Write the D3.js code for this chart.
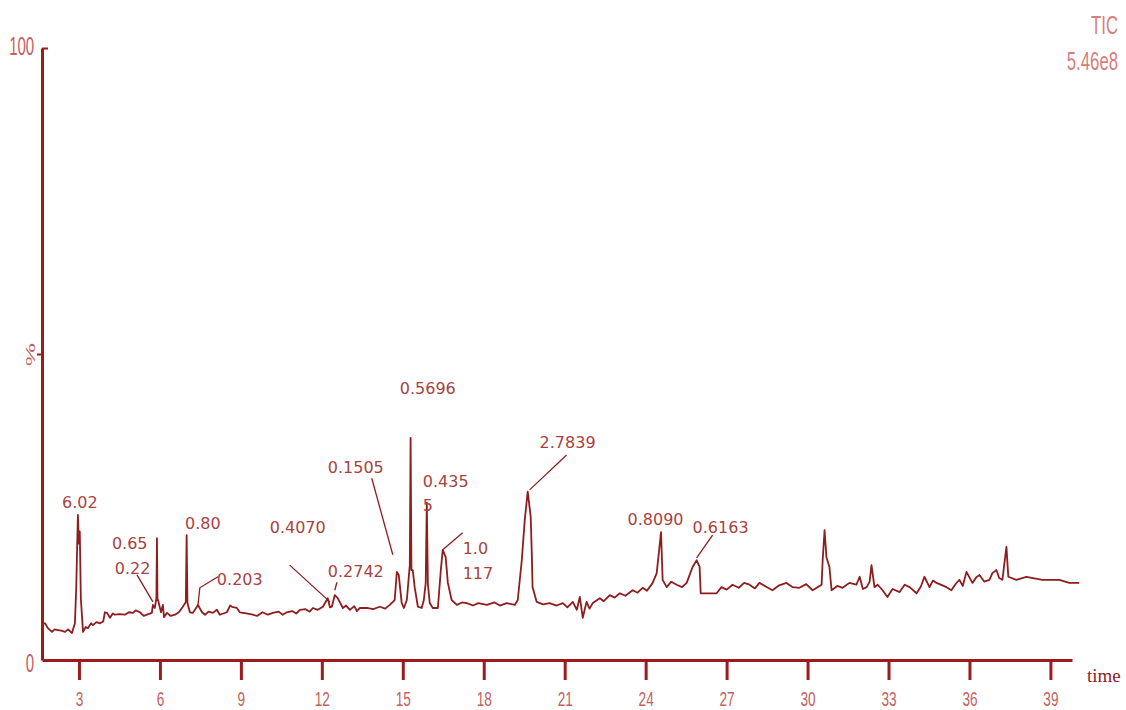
<!DOCTYPE html>
<html>
<head>
<meta charset="utf-8">
<script src="https://cdn.jsdelivr.net/npm/d3@7"></script>
<style>
  body { margin: 0; background: #fff; }
  svg { display: block; }
</style>
</head>
<body>
<div id="chart"></div>
<script>
// TIC trace as [retention time (min), relative abundance (%)]
const trace = [
  [1.63, 6.0], [1.74, 6.0], [1.85, 5.2], [2.00, 4.6], [2.10, 5.0], [2.22, 4.9], [2.35, 4.8], [2.48, 4.6],
  [2.60, 5.0], [2.74, 4.4], [2.85, 6.0], [2.90, 12.0], [2.93, 18.0], [2.96, 23.7], [3.00, 19.0], [3.03, 21.0],
  [3.07, 10.0], [3.15, 4.6], [3.25, 5.4], [3.33, 5.2], [3.45, 6.0], [3.52, 5.7], [3.65, 6.2], [3.78, 6.0],
  [3.90, 6.3], [3.96, 7.8], [4.04, 7.7], [4.15, 6.9], [4.25, 7.6], [4.33, 7.4], [4.50, 7.5], [4.70, 7.4],
  [4.85, 7.8], [5.00, 7.7], [5.10, 8.1], [5.26, 7.8], [5.40, 7.2], [5.52, 7.4], [5.70, 7.7], [5.74, 9.0],
  [5.81, 8.5], [5.87, 10.1], [5.89, 19.9], [5.91, 9.8], [5.93, 9.8], [6.04, 7.8], [6.11, 9.0], [6.15, 7.0],
  [6.26, 7.7], [6.40, 7.2], [6.56, 7.4], [6.70, 7.8], [6.85, 8.7], [6.96, 9.5], [6.99, 20.4], [7.02, 9.3],
  [7.11, 7.8], [7.22, 7.7], [7.37, 8.7], [7.41, 9.0], [7.56, 7.8], [7.67, 7.4], [7.80, 7.9], [7.96, 7.7],
  [8.11, 8.2], [8.22, 7.4], [8.35, 7.6], [8.48, 7.8], [8.60, 8.9], [8.67, 8.7], [8.85, 8.5], [8.96, 7.8],
  [9.20, 7.6], [9.44, 7.4], [9.60, 7.2], [9.80, 7.8], [10.00, 7.4], [10.19, 7.7], [10.40, 7.9], [10.55, 7.4],
  [10.70, 7.8], [10.90, 8.0], [11.05, 7.6], [11.19, 8.2], [11.40, 8.3], [11.55, 7.9], [11.67, 8.5], [11.85, 8.2],
  [12.04, 8.7], [12.22, 10.1], [12.30, 8.6], [12.37, 8.7], [12.48, 10.6], [12.59, 10.1], [12.78, 8.5], [12.90, 8.9],
  [13.04, 8.2], [13.20, 8.8], [13.30, 8.0], [13.41, 8.5], [13.67, 8.5], [13.90, 8.3], [14.15, 8.7], [14.35, 8.4],
  [14.52, 9.0], [14.70, 9.8], [14.78, 14.4], [14.85, 13.9], [14.96, 9.3], [15.04, 8.5], [15.15, 9.8], [15.26, 15.5],
  [15.29, 36.3], [15.32, 14.7], [15.37, 14.7], [15.44, 11.9], [15.56, 8.7], [15.70, 8.5], [15.78, 9.8], [15.85, 12.6],
  [15.89, 25.7], [15.93, 12.4], [16.00, 9.3], [16.11, 8.5], [16.30, 8.5], [16.41, 14.7], [16.48, 18.0], [16.59, 16.8],
  [16.67, 12.6], [16.81, 9.8], [17.00, 9.0], [17.20, 9.4], [17.37, 9.3], [17.60, 8.9], [17.80, 9.3], [18.11, 9.0],
  [18.40, 9.4], [18.60, 8.9], [18.85, 9.3], [19.15, 9.0], [19.26, 9.8], [19.41, 16.3], [19.52, 22.9], [19.63, 27.5],
  [19.74, 23.4], [19.78, 17.5], [19.81, 11.9], [19.96, 9.5], [20.20, 9.1], [20.44, 9.3], [20.70, 8.9], [20.93, 9.3],
  [21.10, 8.6], [21.30, 9.5], [21.45, 8.2], [21.56, 10.3], [21.67, 6.9], [21.81, 9.5], [21.92, 8.4], [22.04, 9.3],
  [22.30, 10.1], [22.45, 9.6], [22.67, 10.6], [22.85, 10.2], [23.04, 10.9], [23.25, 10.5], [23.52, 11.4], [23.70, 11.0],
  [23.89, 11.8], [24.05, 11.3], [24.26, 12.6], [24.41, 14.2], [24.57, 20.9], [24.63, 13.1], [24.78, 11.9], [24.95, 12.8],
  [25.15, 12.3], [25.35, 11.9], [25.52, 12.6], [25.74, 15.2], [25.89, 16.3], [26.00, 15.2], [26.04, 10.9], [26.63, 10.9],
  [26.81, 11.9], [27.00, 11.5], [27.22, 12.3], [27.45, 11.8], [27.65, 12.6], [27.85, 12.3], [28.05, 11.7], [28.22, 12.6],
  [28.45, 12.0], [28.70, 11.4], [28.95, 12.2], [29.22, 12.6], [29.45, 11.9], [29.70, 11.8], [29.95, 12.4], [30.19, 11.4],
  [30.52, 12.3], [30.56, 16.3], [30.63, 21.2], [30.70, 16.8], [30.81, 15.2], [30.89, 11.4], [31.10, 12.1], [31.30, 11.8],
  [31.55, 12.6], [31.81, 12.3], [31.93, 13.6], [32.05, 11.6], [32.19, 11.9], [32.30, 12.8], [32.37, 15.5], [32.48, 11.9],
  [32.60, 12.3], [32.78, 11.4], [32.96, 10.3], [33.15, 11.6], [33.41, 11.1], [33.60, 12.3], [33.78, 11.9], [34.04, 10.9],
  [34.20, 12.0], [34.33, 13.6], [34.52, 11.9], [34.65, 13.0], [34.78, 12.6], [35.00, 12.2], [35.15, 11.9], [35.33, 11.4],
  [35.50, 12.5], [35.63, 13.1], [35.75, 12.1], [35.89, 14.4], [36.11, 12.6], [36.25, 13.5], [36.37, 13.9], [36.55, 12.8],
  [36.74, 13.1], [36.85, 14.2], [37.00, 14.7], [37.10, 13.4], [37.22, 13.1], [37.37, 18.5], [37.44, 13.6], [37.74, 13.1],
  [38.11, 13.6], [38.70, 13.1], [39.33, 13.1], [39.70, 12.6], [40.07, 12.6]
];

const xTicks = [3, 6, 9, 12, 15, 18, 21, 24, 27, 30, 33, 36, 39];
const yTicks = [0, 50, 100];
const yTickLabels = ['0', '%', '100'];

// peak area labels, placed at (time, %) of their left/centre point
const peakText = ['6.02', '0.65', '0.22', '0.80', '0.203', '0.4070', '0.2742', '0.1505', '0.5696',
  '0.435', '5', '1.0', '117', '2.7839', '0.8090', '0.6163'];
const peakTextTime = [2.37, 4.22, 4.33, 6.93, 8.11, 10.07, 12.22, 12.22, 14.89,
  15.74, 15.74, 17.22, 17.22, 20.07, 23.33, 25.74];
const peakTextLevel = [25.7, 19.1, 15.0, 22.4, 13.1, 21.6, 14.5, 31.4, 44.4,
  29.2, 25.3, 18.3, 14.2, 35.5, 22.9, 21.7];

// leader lines from label to peak, as [time, %] points
const leaders = [
  [[5.15, 13.9], [5.74, 9.5]],
  [[8.15, 13.6], [7.48, 11.8], [7.41, 9.0]],
  [[10.81, 15.5], [12.30, 9.5]],
  [[12.56, 12.7], [12.48, 11.4]],
  [[13.85, 29.7], [14.63, 17.2]],
  [[17.22, 20.8], [16.48, 18.0]],
  [[21.07, 33.5], [19.70, 27.8]],
  [[26.48, 20.4], [25.89, 16.7]]
];

const width = 1126;
const height = 710;
const axisColor = '#9c1c1e';
const traceColor = '#8e1d1f';
const labelColor = '#a9423f';
const tickTextColor = '#c4615f';
const headerColor = '#d77d7b';
const narrowFont = '"Liberation Sans", Arial, sans-serif';

const svg = d3.select('#chart')
  .append('svg')
  .attr('width', width)
  .attr('height', height)
  .attr('viewBox', [0, 0, width, height]);

svg.append('rect').attr('width', width).attr('height', height).attr('fill', '#fff');

const x = d3.scaleLinear().domain([1.63, 39.8]).range([42, 1072]);
const y = d3.scaleLinear().domain([0, 100]).range([660, 48]);

// trace
const line = d3.line().x(d => x(d[0])).y(d => y(d[1]));

svg.append('path')
  .datum(trace)
  .attr('fill', 'none')
  .attr('stroke', traceColor)
  .attr('stroke-width', 1.8)
  .attr('stroke-linejoin', 'round')
  .attr('d', line);

// x axis
const xAxis = svg.append('g')
  .attr('transform', `translate(0,${y(0)})`)
  .call(d3.axisBottom(x).tickValues(xTicks).tickSize(20).tickSizeOuter(0).tickPadding(12));

xAxis.select('.domain').attr('stroke', axisColor).attr('stroke-width', 3);
xAxis.selectAll('.tick line').attr('stroke', axisColor).attr('stroke-width', 3);
xAxis.selectAll('.tick text')
  .attr('fill', tickTextColor)
  .attr('font-family', narrowFont)
  .attr('font-size', 20)
  .attr('transform', 'scale(0.68,1)');

// y axis
const yAxis = svg.append('g')
  .attr('transform', `translate(${x.range()[0]},0)`)
  .call(d3.axisLeft(y).tickValues(yTicks).tickSize(5).tickSizeOuter(0).tickPadding(8)
    .tickFormat((d, i) => yTickLabels[i]));

yAxis.select('.domain').attr('stroke', axisColor).attr('stroke-width', 3);
yAxis.selectAll('.tick line').attr('stroke', axisColor).attr('stroke-width', 2)
  .attr('x2', d => d === 100 ? 6 : d === 0 ? 0 : -5);
yAxis.selectAll('.tick text')
  .attr('fill', tickTextColor)
  .attr('font-family', narrowFont)
  .attr('font-size', 25)
  .attr('dy', d => d === 100 ? '0.25em' : '0.44em')
  .attr('transform', 'scale(0.6,1)');
yAxis.selectAll('.tick').filter(d => d === 50).select('text')
  .attr('text-anchor', 'middle')
  .attr('font-size', 22)
  .attr('x', 0)
  .attr('dy', '0.35em')
  .attr('transform', 'translate(-12,0) rotate(-90) scale(1.2,0.6)');

// axis title
svg.append('text')
  .attr('x', x.range()[1] + 15)
  .attr('y', y(0) + 22)
  .attr('fill', traceColor)
  .attr('font-family', '"Liberation Serif", "DejaVu Serif", serif')
  .attr('font-size', 19)
  .text('time');

// header
const header = svg.append('g')
  .attr('fill', headerColor)
  .attr('font-family', narrowFont)
  .attr('font-size', 25)
  .attr('text-anchor', 'end');

header.append('text')
  .attr('transform', 'translate(1118,34) scale(0.67,1)')
  .text('TIC');

header.append('text')
  .attr('transform', 'translate(1118,70) scale(0.67,1)')
  .text('5.46e8');

// leaders
svg.append('g')
  .selectAll('path')
  .data(leaders)
  .join('path')
  .attr('fill', 'none')
  .attr('stroke', traceColor)
  .attr('stroke-width', 1.3)
  .attr('d', line);

// peak labels
svg.append('g')
  .attr('font-family', '"DejaVu Sans", sans-serif')
  .attr('font-size', 16)
  .attr('fill', labelColor)
  .selectAll('text')
  .data(peakText)
  .join('text')
  .attr('x', (d, i) => x(peakTextTime[i]))
  .attr('y', (d, i) => y(peakTextLevel[i]))
  .attr('dy', '0.35em')
  .text(d => d);
</script>
</body>
</html>
